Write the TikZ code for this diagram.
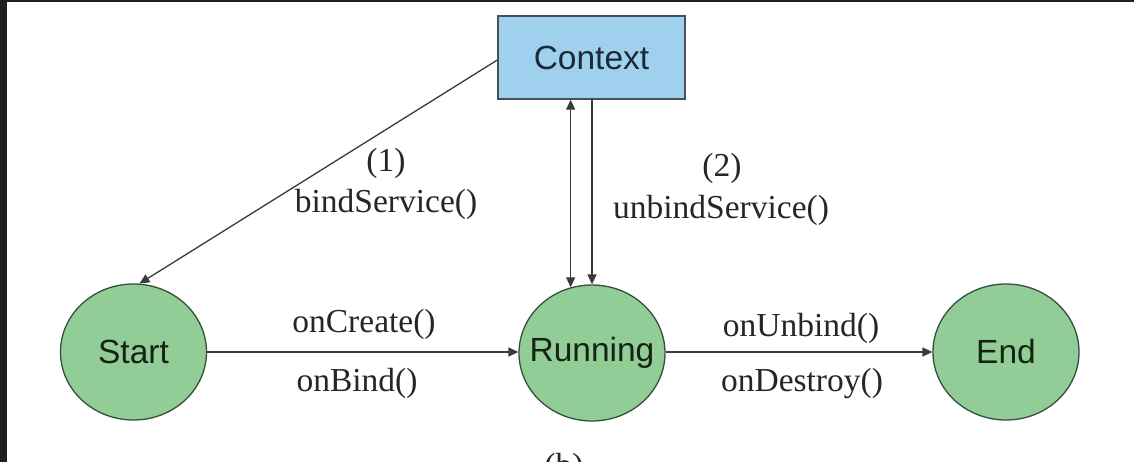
\documentclass[tikz,border=0pt]{standalone}
\usepackage{fontspec}
\setmainfont{Liberation Serif}
\newfontfamily\statefont{Liberation Sans}
\usetikzlibrary{arrows.meta,shapes.geometric}

\definecolor{statefill}{HTML}{92CC96}
\definecolor{stateline}{HTML}{34503A}
\definecolor{statetext}{HTML}{142414}
\definecolor{boxfill}{HTML}{9FD1EF}
\definecolor{boxline}{HTML}{45525C}
\definecolor{boxtext}{HTML}{1A2A38}
\definecolor{wire}{HTML}{3A3A3A}
\definecolor{labeltext}{HTML}{262626}
\definecolor{frame}{HTML}{1F1F21}

\tikzset{
  state/.style={ellipse, draw=stateline, fill=statefill, line width=1.3pt,
    minimum width=146pt, minimum height=136pt, inner sep=0pt,
    font=\statefont\fontsize{33.5}{36}\selectfont, text=statetext},
  ctxbox/.style={rectangle, draw=boxline, fill=boxfill, line width=1.3pt,
    minimum width=187pt, minimum height=83pt, inner sep=0pt,
    font=\statefont\fontsize{33.5}{36}\selectfont, text=boxtext},
  lbl/.style={anchor=base, inner sep=0pt, text=labeltext,
    font=\fontsize{33.5}{36}\selectfont},
  wirestyle/.style={draw=wire, line width=1.3pt},
  arr/.style={wirestyle, -{Triangle[length=10pt,width=9pt]}},
  dblarr/.style={wirestyle, {Triangle[length=10pt,width=9pt]}-{Triangle[length=10pt,width=9pt]}}
}

\begin{document}
\begin{tikzpicture}[x=1pt,y=-1pt]
\useasboundingbox (0,0) rectangle (1134,462);
\clip (0,0) rectangle (1134,462);
\fill[white] (0,0) rectangle (1134,462);

% dark frame along the left and top edges
\fill[frame] (0,0) rectangle (7,462);
\fill[frame] (0,0) rectangle (1134,2);

% nodes
\node[ctxbox] (ctx) at (591.5,57.5) {Context};
\node[state] (start) at (133.5,352) {\makebox[0pt]{Start}};
\node[state] (run) at (592,353) {\makebox[0pt]{Running}};
\node[state] (end) at (1006,352) {\makebox[0pt]{End}};

% connectors
\draw[arr] ([yshift=-2.5pt]ctx.west) -- (start.85);
\draw[dblarr] (run.108 |- ctx.south) -- (run.108);
\draw[arr] (ctx.south -| run.north) -- (run.north);
\draw[arr] (start.east) -- (start.east -| run.west);
\draw[arr] (run.east |- end.west) -- (end.west);

% labels
\node[lbl] (l1) at (386,172) {(1)};
\node[lbl] (bind) at (386,213) {bindService()};
\node[lbl] (l2) at (722,177) {(2)};
\node[lbl] (unbind) at (721,219) {unbindService()};
\node[lbl] (create) at (364,332) {onCreate()};
\node[lbl] (onbind) at (357,391) {onBind()};
\node[lbl] (onunbind) at (801,336) {onUnbind()};
\node[lbl] (destroy) at (802,391) {onDestroy()};
\node[lbl] (cap) at (564,476) {(b)};
\end{tikzpicture}
\end{document}
